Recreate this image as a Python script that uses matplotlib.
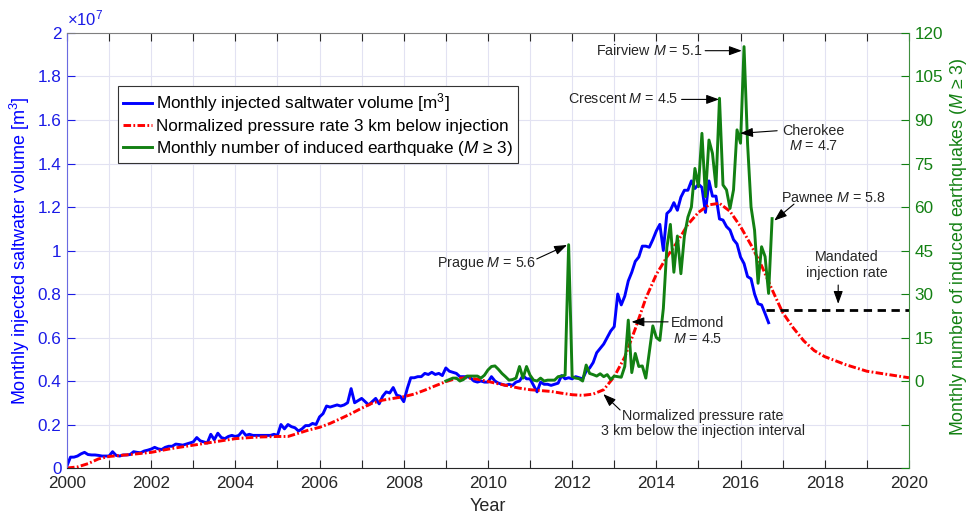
import matplotlib
matplotlib.use("Agg")
import matplotlib.pyplot as plt
import numpy as np

plt.rcParams['font.family'] = ['Liberation Sans', 'DejaVu Sans']
plt.rcParams['mathtext.fontset'] = 'custom'
plt.rcParams['mathtext.rm'] = 'Liberation Sans'
plt.rcParams['mathtext.it'] = 'Liberation Sans:italic'
plt.rcParams['mathtext.bf'] = 'Liberation Sans:bold'

# monthly injected saltwater volume [1e6 m3], Jan 2000 .. Sep 2016
volume = [
    0.1, 0.5, 0.5, 0.55, 0.65, 0.72, 0.62, 0.6, 0.6, 0.58, 0.55, 0.55,
    0.55, 0.75, 0.58, 0.55, 0.6, 0.6, 0.62, 0.75, 0.72, 0.7, 0.78, 0.82,
    0.87, 0.95, 0.88, 0.85, 0.95, 1.0, 1.0, 1.1, 1.08, 1.05, 1.1, 1.15,
    1.2, 1.4, 1.25, 1.2, 1.15, 1.55, 1.3, 1.6, 1.4, 1.35, 1.45, 1.5,
    1.45, 1.5, 1.7, 1.5, 1.55, 1.5, 1.5, 1.5, 1.5, 1.5, 1.5, 1.55,
    1.5, 2.0, 1.8, 2.0, 1.9, 1.85, 1.7, 1.8, 1.95, 1.95, 2.05, 2.0,
    2.35, 2.5, 2.85, 2.8, 2.85, 2.9, 2.85, 2.9, 3.0, 3.65, 3.0, 3.1,
    3.2, 3.05, 2.9, 3.05, 3.2, 2.95, 3.3, 3.5, 3.45, 3.7, 3.35, 3.3,
    3.05, 3.65, 4.15, 4.15, 4.2, 4.2, 4.35, 4.3, 4.4, 4.3, 4.35, 4.25,
    4.6, 4.45, 4.4, 4.35, 4.2, 4.2, 4.2, 4.15, 4.0, 3.95, 4.0, 3.95,
    3.95, 4.2, 4.0, 3.9, 3.85, 3.8, 3.85, 3.8, 3.95, 4.0, 4.25, 4.1,
    4.1, 3.8, 3.5, 3.95, 3.85, 3.85, 3.8, 3.85, 3.9, 4.25, 4.1, 4.15,
    4.1, 4.2, 4.15, 4.1, 4.45, 4.6, 4.85, 5.3, 5.5, 5.7, 6.0, 6.3,
    6.5, 8.0, 7.5, 7.9, 8.6, 9.0, 9.5, 9.7, 10.2, 10.2, 10.15, 10.5,
    10.9, 11.2, 10.0, 11.7, 11.85, 12.2, 11.85, 12.45, 12.77, 12.77, 13.2, 12.85,
    13.05, 12.9, 11.75, 13.2, 12.5, 12.5, 11.45, 11.4, 11.1, 10.94, 10.5, 10.3,
    9.7, 9.4, 8.8, 8.7, 8.0, 7.55, 7.5, 7.1, 6.68,
]
vol_years = 2000 + np.arange(len(volume)) / 12

# normalized pressure rate, drawn on the volume scale [1e6]
press_years = [2000.0, 2000.25, 2000.5, 2000.75, 2001.0, 2001.5, 2002.0, 2002.5,
               2003.0, 2003.5, 2004.0, 2004.5, 2005.0, 2005.25, 2005.5, 2005.75,
               2006.0, 2006.25, 2006.5, 2006.75, 2007.0, 2007.25, 2007.5, 2007.75,
               2008.0, 2008.25, 2008.5, 2008.75, 2009.0, 2009.25, 2009.5, 2009.75,
               2010.0, 2010.25, 2010.5, 2010.75, 2011.0, 2011.25, 2011.5, 2011.75,
               2012.0, 2012.25, 2012.5, 2012.75, 2013.0, 2013.25, 2013.5, 2013.75,
               2014.0, 2014.25, 2014.5, 2014.75, 2015.0, 2015.25, 2015.5, 2015.75,
               2016.0, 2016.25, 2016.5, 2016.75, 2017.0, 2017.25, 2017.5, 2017.75,
               2018.0, 2018.5, 2019.0, 2019.5, 2020.0]
press = [0.0, 0.05, 0.2, 0.42, 0.53, 0.62, 0.72, 0.9,
         1.05, 1.2, 1.35, 1.42, 1.45, 1.45, 1.6, 1.75,
         1.87, 2.05, 2.27, 2.5, 2.75, 2.98, 3.12, 3.2,
         3.28, 3.4, 3.58, 3.78, 3.97, 4.12, 4.15, 4.08,
         3.98, 3.87, 3.77, 3.67, 3.6, 3.56, 3.52, 3.44,
         3.37, 3.34, 3.4, 3.6, 4.2, 5.1, 6.4, 7.8,
         8.9, 9.7, 10.4, 11.2, 11.75, 12.1, 12.17, 11.8,
         11.1, 10.25, 9.3, 8.2, 7.15, 6.45, 5.85, 5.4,
         5.12, 4.75, 4.45, 4.3, 4.15]

# monthly number of induced earthquakes (M >= 3), Jan 2009 .. Oct 2016
quakes = [
    0, 0.5, 1, 1, 0, 0.5, 1.7, 1.7, 1.7, 1.7, 1, 2,
    3.8, 5, 5.2, 4, 2.6, 1.5, 0.3, 0.5, 1, 5, 1, 5,
    2, 0.3, 0, 1, 0, 0.3, 0.3, 0.3, 1.5, 1.7, 2, 47,
    1.5, 1, 0.8, 0, 5.5, 2.6, 2.2, 1.7, 2.5, 1.5, 2.2, 0.5,
    1.7, 1.5, 1.3, 5, 21, 2.9, 9.5, 5, 5.2, 1, 10, 19,
    15, 14, 25, 46, 54, 37.5, 50, 37, 50, 56.5, 60, 73.3,
    67, 85.4, 63.6, 83.1, 78.5, 67, 97.5, 67.6, 65.9, 59.5, 65.9, 86.6,
    82, 115.3, 82, 60, 52, 33.7, 46.3, 42.9, 30.2, 56,
]
quake_years = 2009 + np.arange(len(quakes)) / 12

# mandated injection rate [1e6]
mandated_years = [2016.6, 2020.0]
mandated_level = [7.25, 7.25]

blue = '#0000ff'
blue_txt = '#1a1ae6'
red = '#ff0000'
green = '#128012'
dark = '#262626'

fig = plt.figure(figsize=(9.69, 5.18), dpi=100)
ax = fig.add_axes([0.0691, 0.0965, 0.8689, 0.8398])
ax2 = ax.twinx()

ax.grid(True, color='#e2e2f2', lw=0.8)
ax.set_axisbelow(True)

l_vol, = ax.plot(vol_years, np.array(volume) / 10, color=blue, lw=2.1)
l_pr, = ax.plot(press_years, np.array(press) / 10, color=red, lw=2.1,
                dashes=(2.6, 0.8, 0.6, 0.8))
ax.plot(mandated_years, np.array(mandated_level) / 10, color='black', lw=2.0,
        dashes=(3, 2))
l_eq, = ax2.plot(quake_years, quakes, color=green, lw=2.1)

ax.set_xlim(2000, 2020)
ax.set_ylim(0, 2)
ax2.set_ylim(-30, 120)

years = list(range(2000, 2021))
ax.set_xticks(years)
ax.set_xticklabels([str(y) if y % 2 == 0 else '' for y in years])
yt = np.round(np.arange(0, 2.01, 0.2), 1)
ax.set_yticks(yt)
ax.set_yticklabels(['%g' % v for v in yt])
qt = list(range(-30, 121, 15))
ax2.set_yticks(qt)
ax2.set_yticklabels([str(v) if v >= 0 else '' for v in qt])

ax.tick_params(axis='x', direction='in', top=True, length=6, width=0.8,
               color=dark, labelcolor=dark, labelsize=12.3, pad=6)
ax.tick_params(axis='y', direction='in', length=6, width=0.8,
               color=blue_txt, labelcolor=blue_txt, labelsize=12.3, pad=4)
ax2.tick_params(axis='y', direction='in', length=6, width=0.8,
                color=green, labelcolor=green, labelsize=12.3, pad=4)

ax.spines['right'].set_visible(False)
ax.spines['left'].set_color('#6a6ae0')
ax.spines['bottom'].set_color(dark)
ax.spines['top'].set_color('#7f7f7f')
for s in ['left', 'top', 'bottom']:
    ax2.spines[s].set_visible(False)
ax2.spines['right'].set_color('#3f8f3f')

ax.set_xlabel('Year', fontsize=13, color=dark, labelpad=5)
ax.set_ylabel('Monthly injected saltwater volume [m$^3$]', fontsize=13, color=blue)
ax.yaxis.set_label_coords(-0.041, 0.5)
ax2.set_ylabel('Monthly number of induced earthquakes ($M$ \u2265 3)', fontsize=12.8,
               color=green)
ax2.yaxis.set_label_coords(1.046, 0.51)

ax.text(0.0, 1.01, r'$\times10^{7}$', transform=ax.transAxes, ha='left',
        va='bottom', fontsize=12, color=blue_txt)

leg = ax2.legend([l_vol, l_pr, l_eq],
                 ['Monthly injected saltwater volume [m$^3$]',
                  'Normalized pressure rate 3 km below injection',
                  'Monthly number of induced earthquake ($M$ \u2265 3)'],
                 loc='upper left', bbox_to_anchor=(0.0606, 0.878),
                 fontsize=12.3, fancybox=False, framealpha=1, edgecolor='#333333',
                 borderpad=0.3, labelspacing=0.3, handlelength=1.7,
                 handletextpad=0.25, borderaxespad=0)
leg.get_frame().set_linewidth(0.8)

fs = 10.3
arrow = dict(arrowstyle='-|>,head_length=0.55,head_width=0.2', color='black',
             lw=0.8, shrinkA=0, shrinkB=0, mutation_scale=14)


def note(text, pos, tail, tip, ha='center'):
    ax2.text(pos[0], pos[1], text, ha=ha, va='center', fontsize=fs, color=dark,
             linespacing=1.15)
    ax2.annotate('', xy=tip, xytext=tail, arrowprops=arrow)


note('Prague $M$ = 5.6', (2011.14, 40.6), (2011.16, 42.1), (2011.88, 46.9), ha='right')
note('Fairview $M$ = 5.1', (2015.10, 113.9), (2015.16, 113.9), (2016.03, 113.9), ha='right')
note('Crescent $M$ = 4.5', (2014.52, 97.1), (2014.60, 97.1), (2015.49, 97.1), ha='right')
note('Cherokee\n$M$ = 4.7', (2017.74, 83.6), (2016.87, 86.3), (2015.99, 85.4))
note('Pawnee $M$ = 5.8', (2018.20, 63.0), (2017.27, 61.0), (2016.80, 55.3))
note('Mandated\ninjection rate', (2018.53, 40.0), (2018.32, 33.1), (2018.32, 26.6))
note('Edmond\n$M$ = 4.5', (2014.99, 17.2), (2014.28, 20.4), (2013.41, 20.4))
note('Normalized pressure rate\n3 km below the injection interval', (2015.11, -14.6),
     (2013.14, -10.0), (2012.74, -4.5))

fig.savefig('out.png', dpi=100)
